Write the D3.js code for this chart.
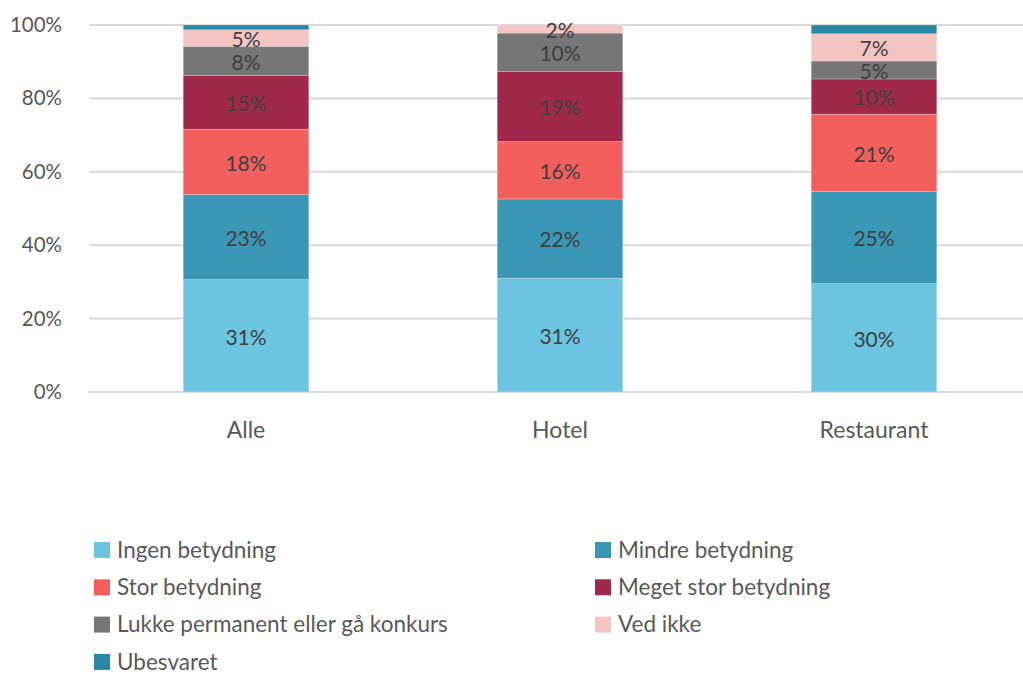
<!DOCTYPE html>
<html>
<head>
<meta charset="utf-8">
<script src="https://cdn.jsdelivr.net/npm/d3@7"></script>
<style>
    body { margin: 0; background: #fff; }
    #chart { width: 1023px; height: 674px; }
    text { font-family: Lato, "Open Sans", sans-serif; }
</style>
</head>
<body>
<div id="chart"></div>
<script>
// data (percent)
const categories = ["Alle", "Hotel", "Restaurant"];
const seriesNames = ["Ingen betydning", "Mindre betydning", "Stor betydning", "Meget stor betydning",
    "Lukke permanent eller gå konkurs", "Ved ikke", "Ubesvaret"];
const ingen     = [30.6, 31.0, 29.5];
const mindre    = [23.2, 21.6, 25.2];
const stor      = [17.8, 15.6, 21.0];
const megetStor = [14.7, 19.2, 9.6];
const lukke     = [7.9, 10.4, 4.9];
const vedIkke   = [4.5, 2.2, 7.4];
const ubesvaret = [1.3, 0.0, 2.4];
const yTicks = [0, 20, 40, 60, 80, 100];

const colors = ["#6bc5e0", "#3b97b6", "#f25f5c", "#a0284b", "#767676", "#f2c4c2", "#2789a6"];

const seriesValues = [ingen, mindre, stor, megetStor, lukke, vedIkke, ubesvaret];
const rows = categories.map((c, i) => {
    let row = {cat: c};
    seriesNames.forEach((s, j) => row[s] = seriesValues[j][i]);
    return row;
});

const width = 1023, height = 674;
const margin = {top: 25, left: 89, bottom: 282};

const svg = d3.select("#chart").append("svg")
    .attr("width", width)
    .attr("height", height);

const x = d3.scaleBand()
    .domain(categories)
    .range([margin.left, margin.left + 942])
    .paddingInner(0.6)
    .paddingOuter(0.3);

const y = d3.scaleLinear()
    .domain([0, 100])
    .range([height - margin.bottom, margin.top]);

// gridlines
svg.append("g")
    .selectAll("line")
    .data(yTicks)
    .enter().append("line")
    .attr("x1", margin.left)
    .attr("x2", width)
    .attr("y1", d => y(d))
    .attr("y2", d => y(d))
    .attr("stroke", "#d9d9d9")
    .attr("stroke-width", 2);

// y axis labels
const yAxis = d3.axisLeft(y)
    .tickValues(yTicks)
    .tickFormat(d => d + "%")
    .tickSize(0)
    .tickPadding(27);

const yAxisGroup = svg.append("g")
    .attr("transform", `translate(${margin.left}, 0)`)
    .call(yAxis);
yAxisGroup.select(".domain").remove();
yAxisGroup.selectAll("text")
    .attr("fill", "#595959")
    .style("font-size", "20.5px");

// x axis labels
const xAxis = d3.axisBottom(x).tickSize(0).tickPadding(30);
const xAxisGroup = svg.append("g")
    .attr("transform", `translate(0, ${y(0)})`)
    .call(xAxis);
xAxisGroup.select(".domain").remove();
xAxisGroup.selectAll("text")
    .attr("fill", "#595959")
    .style("font-size", "23px");

// stacked bars
const stack = d3.stack().keys(seriesNames);
const stacked = stack(rows);

const layers = svg.append("g")
    .selectAll("g")
    .data(stacked)
    .enter().append("g")
    .attr("fill", (d, i) => colors[i]);

layers.selectAll("rect")
    .data(d => d)
    .enter().append("rect")
    .attr("x", d => x(d.data.cat))
    .attr("y", d => y(d[1]))
    .attr("width", x.bandwidth())
    .attr("height", d => y(d[0]) - y(d[1]))
    .attr("stroke", "#ffffff")
    .attr("stroke-opacity", 0.4)
    .attr("stroke-width", 0.6);

// value labels (not for Ubesvaret)
layers.filter((d, i) => i < 6)
    .selectAll("text")
    .data(d => d)
    .enter().append("text")
    .filter(d => d[1] - d[0] >= 1)
    .attr("x", d => x(d.data.cat) + x.bandwidth() / 2)
    .attr("y", d => (y(d[0]) + y(d[1])) / 2 + 1.5)
    .attr("dy", "0.35em")
    .attr("text-anchor", "middle")
    .attr("fill", "#404040")
    .style("font-size", "21px")
    .text(d => Math.round(d[1] - d[0]) + "%");

// legend
const legend = svg.append("g")
    .selectAll("g")
    .data(seriesNames)
    .enter().append("g")
    .attr("transform", (d, i) => `translate(${i % 2 === 0 ? 94 : 595}, ${550 + Math.floor(i / 2) * 37.3})`);

legend.append("rect")
    .attr("x", 0)
    .attr("y", -8)
    .attr("width", 16)
    .attr("height", 16)
    .attr("fill", (d, i) => colors[i]);

legend.append("text")
    .attr("x", 23)
    .attr("y", 0)
    .attr("dy", "0.35em")
    .attr("fill", "#595959")
    .style("font-size", "22.5px")
    .text(d => d);
</script>
</body>
</html>
